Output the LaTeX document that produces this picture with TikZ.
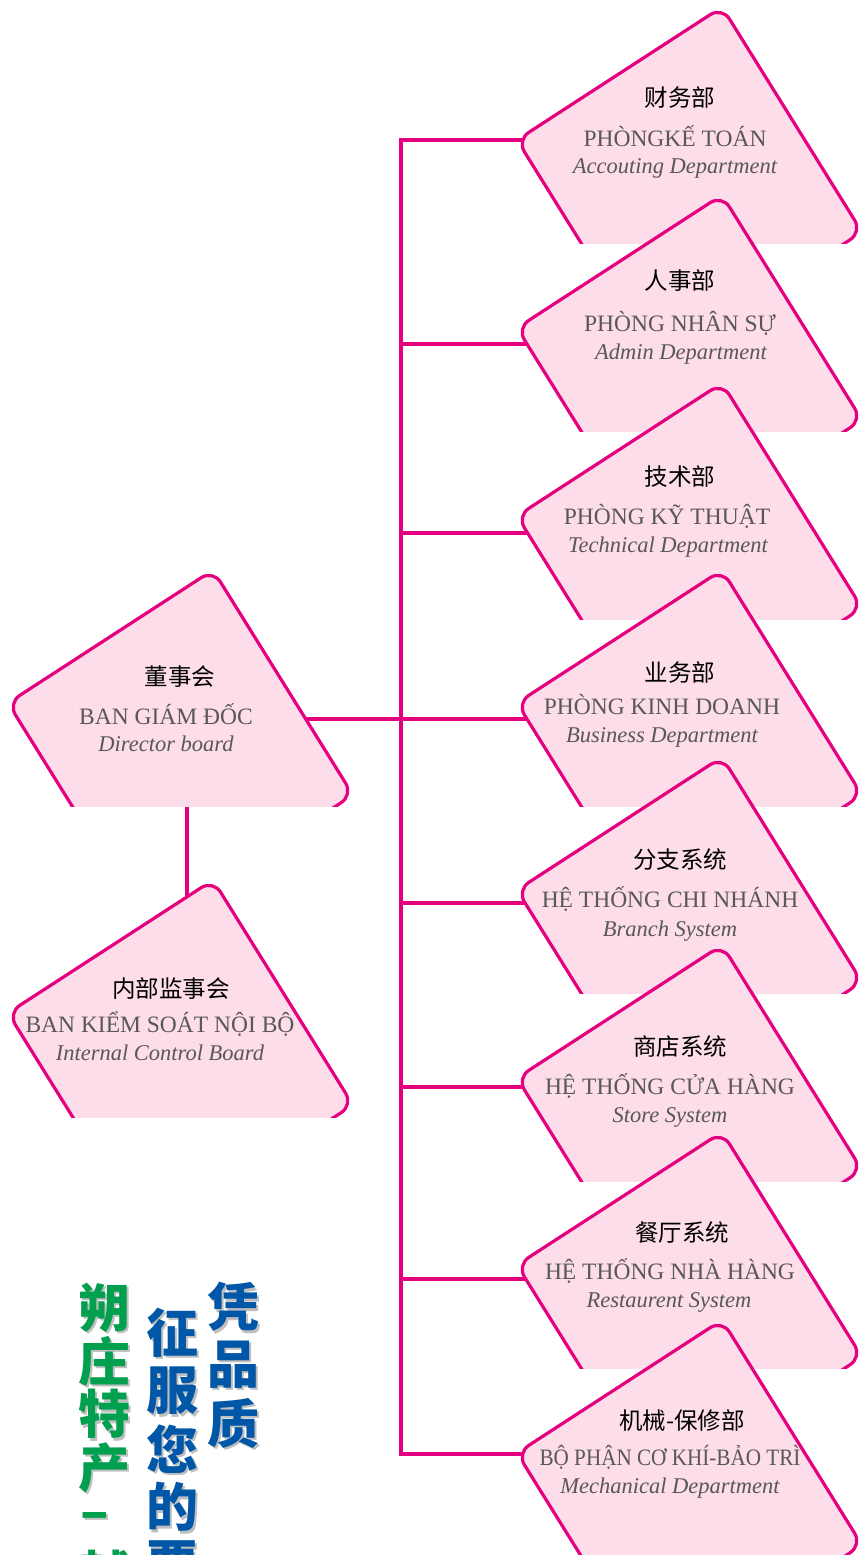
\documentclass[tikz,border=0pt]{standalone}
\usepackage{fontspec}
\setmainfont{Liberation Serif}
\newfontfamily\cjk{Noto Sans CJK SC}
\definecolor{mag}{HTML}{E4007F}
\definecolor{pinkfill}{HTML}{FCDDE9}
\definecolor{txtgray}{HTML}{595757}
\definecolor{sgreen}{HTML}{00A04E}
\definecolor{sblue}{HTML}{0057A8}
\definecolor{shadowgray}{HTML}{BFBFBF}
% #1 name, #2 x of top corner, #3 y of top corner, #4 y of bottom cut
\newcommand\orgbox[4]{%
  \begin{scope}
    \clip ({#2-230},{#3-10}) rectangle ({#2+170},{#4});
    \path[boxshape] ({#2-205},{#3+133}) -- (#2,#3) -- ({#2+140},{#3+225}) -- ({#2-65},{#3+358}) -- cycle;
  \end{scope}
  \coordinate (#1) at (#2,#3);
}
% #1 name, #2 x, #3 y, #4 colour, #5 character
\newcommand\slgchar[5]{%
  \node[slg,text=shadowgray] (#1s) at ({#2+2.2},{#3+2.2}) {#5};
  \node[slg,text=#4] (#1) at (#2,#3) {#5};
}
\begin{document}
\begin{tikzpicture}[x=1pt,y=-1pt,
  conn/.style={draw=mag,line width=3.2pt},
  boxshape/.style={draw=mag,fill=pinkfill,line width=3.2pt,rounded corners=14pt,line join=round},
  cjkt/.style={font=\cjk\fontsize{23.5}{27}\selectfont,text=black,inner sep=0pt,anchor=center},
  vnt/.style={font=\fontsize{23.5}{28}\selectfont,text=txtgray,inner sep=0pt,anchor=base},
  ent/.style={font=\itshape\fontsize{22.5}{27}\selectfont,text=txtgray,inner sep=0pt,anchor=base},
  slg/.style={font=\cjk\bfseries\fontsize{52}{52}\selectfont,inner sep=0pt,anchor=center},
]
\useasboundingbox (0,0) rectangle (860,1555);
\fill[white] (0,0) rectangle (860,1555);

% connector end points
\coordinate (j1) at (401,140);   \coordinate (c1) at (540,140);
\coordinate (j2) at (401,344);   \coordinate (c2) at (540,344);
\coordinate (j3) at (401,533);   \coordinate (c3) at (540,533);
\coordinate (j4) at (401,719);   \coordinate (c4) at (540,719);
\coordinate (j5) at (401,903);   \coordinate (c5) at (540,903);
\coordinate (j6) at (401,1087);  \coordinate (c6) at (540,1087);
\coordinate (j7) at (401,1279);  \coordinate (c7) at (540,1279);
\coordinate (j8) at (401,1454);  \coordinate (c8) at (540,1454);
\coordinate (lbout) at (290,719);
\coordinate (lbdown) at (187,790);
\coordinate (icup) at (187,910);

% connectors
\draw[conn,line join=miter] (c1) -- (j1) -- (j8) -- (c8);
\draw[conn] (j2) -- (c2);
\draw[conn] (j3) -- (c3);
\draw[conn] (lbout) -- (j4) -- (c4);
\draw[conn] (j5) -- (c5);
\draw[conn] (j6) -- (c6);
\draw[conn] (j7) -- (c7);
\draw[conn] (lbdown) -- (icup);

% boxes
\orgbox{b1}{722}{7}{243}
\orgbox{b2}{722}{195}{431}
\orgbox{b3}{722}{383}{619}
\orgbox{b4}{722}{570}{806}
\orgbox{b5}{722}{757}{993}
\orgbox{b6}{722}{945}{1181}
\orgbox{b7}{722}{1132}{1368}
\orgbox{b8}{722}{1320}{1560}
\orgbox{lb}{213}{570}{806}
\orgbox{ic}{213}{880}{1117}

% texts
\node[cjkt] (t1) at (680,98) {财务部};
\node[vnt] (v1) at (675,146.5) {PHÒNGKẾ TOÁN};
\node[ent] (e1) at (675,173) {Accouting Department};

\node[cjkt] (t2) at (680,281) {人事部};
\node[vnt] (v2) at (680,331) {PHÒNG NHÂN SỰ};
\node[ent] (e2) at (681,359) {Admin Department};

\node[cjkt] (t3) at (680,477) {技术部};
\node[vnt] (v3) at (667,524.5) {PHÒNG KỸ THUẬT};
\node[ent] (e3) at (668,552) {Technical Department};

\node[cjkt] (t4) at (680,672) {业务部};
\node[vnt] (v4) at (662,714.5) {PHÒNG KINH DOANH};
\node[ent] (e4) at (662,742) {Business Department};

\node[cjkt] (t5) at (680,860) {分支系统};
\node[vnt] (v5) at (670,907.5) {HỆ THỐNG CHI NHÁNH};
\node[ent] (e5) at (670,936) {Branch System};

\node[cjkt] (t6) at (680,1047) {商店系统};
\node[vnt] (v6) at (670,1094.5) {HỆ THỐNG CỬA HÀNG};
\node[ent] (e6) at (670,1122) {Store System};

\node[cjkt] (t7) at (682,1232) {餐厅系统};
\node[vnt] (v7) at (670,1279.5) {HỆ THỐNG NHÀ HÀNG};
\node[ent] (e7) at (669,1307) {Restaurent System};

\node[cjkt] (t8) at (682,1421) {机械-保修部};
\node[vnt] (v8) at (670,1465.5) {\scalebox{0.9}[1]{BỘ PHẬN CƠ KHÍ-BẢO TRÌ}};
\node[ent] (e8) at (670,1493) {Mechanical Department};

\node[cjkt] (tl) at (180,677) {董事会};
\node[vnt] (vl) at (166,724.5) {BAN GIÁM ĐỐC};
\node[ent] (el) at (166,751) {Director board};

\node[cjkt] (ti) at (171,989) {内部监事会};
\node[vnt] (vi) at (160,1032.5) {BAN KIỂM SOÁT NỘI BỘ};
\node[ent] (ei) at (160,1060) {Internal Control Board};

% slogan
\slgchar{g1}{104}{1308}{sgreen}{朔}
\slgchar{g2}{104}{1361}{sgreen}{庄}
\slgchar{g3}{104}{1414}{sgreen}{特}
\slgchar{g4}{104}{1468}{sgreen}{产}
\slgchar{g5}{95}{1521}{sgreen}{–}
\slgchar{g6}{104}{1575}{sgreen}{越}
\slgchar{m1}{172}{1333}{sblue}{征}
\slgchar{m2}{172}{1391}{sblue}{服}
\slgchar{m3}{172}{1449}{sblue}{您}
\slgchar{m4}{172}{1507}{sblue}{的}
\slgchar{m5}{172}{1565}{sblue}{要}
\slgchar{r1}{233}{1307}{sblue}{凭}
\slgchar{r2}{233}{1365}{sblue}{品}
\slgchar{r3}{233}{1423}{sblue}{质}
\end{tikzpicture}
\end{document}
